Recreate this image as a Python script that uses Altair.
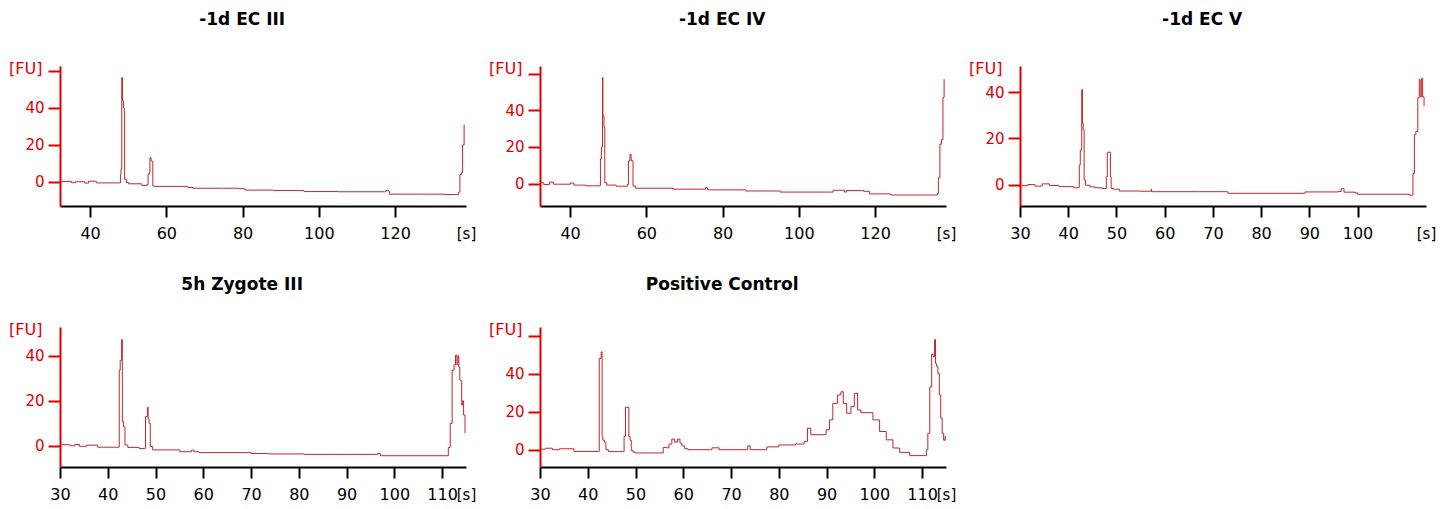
import altair as alt
import pandas as pd

# ---------------- data (migration time [s], fluorescence [FU]) ----------------
EC3_T = [32.2, 35.0, 35.1, 36.0, 36.1, 38.5, 38.6, 39.5, 39.6, 41.5, 41.6, 45.5, 47.8, 47.95, 48.1,
         48.3, 48.5, 48.75, 48.95, 49.05, 49.5, 50.0, 50.1, 53.5, 53.6, 54.8, 55.2, 55.5, 55.7, 56.0,
         56.3, 56.45, 57.0, 65.5, 65.6, 67.0, 67.1, 75.0, 79.0, 80.5, 80.6, 88.0, 96.0, 96.1, 105.0,
         117.2, 117.6, 118.3, 118.5, 129.0, 133.0, 136.2, 136.6, 137.0, 137.4, 137.7, 138.1]
EC3_FU = [0.3, 0.3, -0.4, -0.4, 0.1, 0.1, -0.6, -0.6, 0.4, 0.4, -0.5, -0.5, -0.5, 4.0, 7.0,
          56.4, 44.0, 40.0, 38.0, 1.5, -0.3, -0.3, -1.0, -1.0, -2.0, -1.5, 4.2, 5.0, 13.1, 11.4,
          11.0, -2.2, -2.4, -2.4, -3.0, -3.0, -3.4, -3.4, -3.6, -3.6, -4.4, -4.6, -4.8, -5.2, -5.3,
          -5.3, -4.6, -5.0, -6.6, -6.6, -6.8, -6.8, -5.5, 4.0, 5.0, 20.0, 31.0]

EC4_T = [32.2, 33.0, 33.1, 34.5, 34.6, 35.5, 35.6, 37.0, 40.0, 40.1, 40.8, 41.0, 44.0, 44.1, 47.0,
         47.8, 47.95, 48.2, 48.5, 48.6, 48.9, 49.1, 49.6, 52.0, 52.1, 54.5, 55.0, 55.3, 55.7, 56.0,
         56.3, 56.5, 57.2, 67.0, 67.1, 75.0, 75.5, 76.0, 86.0, 86.1, 95.0, 95.1, 108.5, 109.0, 112.0,
         112.5, 117.0, 117.6, 118.5, 124.0, 124.1, 135.5, 136.3, 136.6, 137.0, 137.4, 137.8, 138.1]
EC4_FU = [0.5, 0.5, -0.5, -0.5, 0.8, 0.8, -0.3, -0.3, -0.3, 0.3, 0.3, -0.8, -0.8, -1.2, -1.2,
          -1.0, 13.5, 20.0, 57.9, 37.0, 30.7, 0.5, -0.8, -0.8, -1.4, -1.4, -0.5, 12.4, 16.0, 12.5,
          12.5, -1.3, -2.5, -2.5, -3.0, -3.0, -2.2, -3.4, -3.4, -4.0, -4.0, -4.6, -4.6, -3.6, -4.6,
          -3.8, -4.2, -4.2, -5.6, -5.6, -6.2, -6.2, -5.4, 3.3, 21.5, 24.0, 47.0, 57.0]

EC5_T = [30.0, 31.5, 31.6, 33.0, 33.1, 34.5, 34.6, 36.0, 36.1, 38.0, 38.1, 41.0, 41.1, 42.1, 42.3,
         42.5, 42.8, 42.95, 43.1, 43.3, 43.6, 44.5, 45.5, 47.0, 47.6, 47.9, 48.1, 48.6, 48.75, 48.9,
         49.4, 50.5, 50.6, 55.0, 56.8, 57.2, 57.3, 67.0, 73.0, 73.1, 86.0, 89.0, 89.1, 93.5, 96.0,
         96.6, 97.2, 99.5, 100.0, 110.8, 111.2, 111.5, 111.8, 112.1, 112.5, 112.8, 113.0, 113.3, 113.5, 113.8]
EC5_FU = [-0.5, -0.5, 0.0, 0.0, -0.7, -0.7, 0.3, 0.3, -0.4, -0.4, -0.9, -0.9, -1.4, -1.2, 8.5,
          15.0, 41.2, 26.6, 23.7, 1.9, -0.3, -1.0, -1.4, -1.7, -1.7, 3.4, 14.0, 14.0, 3.4, -1.7,
          -2.0, -2.0, -2.8, -2.9, -2.9, -2.0, -3.1, -3.1, -3.1, -3.8, -3.8, -3.8, -3.2, -3.2, -3.0,
          -1.8, -3.3, -3.6, -4.2, -4.6, -4.6, 4.8, 21.6, 23.0, 37.6, 45.6, 38.0, 46.0, 38.0, 34.0]

ZYG_T = [30.0, 32.0, 32.1, 33.0, 33.1, 34.0, 34.1, 35.5, 35.6, 37.8, 37.9, 42.2, 42.4, 42.6, 42.9,
         43.05, 43.3, 43.45, 43.6, 44.2, 46.5, 46.6, 47.7, 47.9, 48.3, 48.45, 48.65, 48.9, 49.4, 55.0,
         55.1, 57.0, 57.5, 58.0, 59.0, 59.1, 70.0, 70.1, 73.5, 73.6, 81.0, 81.1, 90.0, 96.5, 97.0,
         97.1, 111.0, 111.3, 111.7, 112.1, 112.5, 112.8, 113.1, 113.3, 113.5, 113.7, 113.9, 114.1, 114.3,
         114.5, 114.8]
ZYG_FU = [0.5, 0.5, 0.0, 0.0, 0.6, 0.6, -0.2, -0.2, 0.3, 0.3, -0.6, -0.6, 33.6, 38.0, 47.2,
          10.8, 8.5, 8.5, 0.4, -0.7, -0.7, -1.2, -1.2, 13.0, 17.1, 12.0, 10.0, -0.3, -1.8, -1.8,
          -2.6, -2.6, -1.9, -2.6, -2.6, -3.0, -3.0, -3.4, -3.4, -3.6, -3.6, -3.8, -3.8, -3.4, -3.6,
          -4.4, -4.4, -0.7, 10.0, 33.6, 36.0, 40.3, 36.0, 40.0, 35.0, 29.2, 29.0, 18.1, 20.0,
          13.7, 5.6]

POS_T = [30.0, 31.0, 31.1, 32.5, 32.6, 34.0, 34.1, 37.0, 37.1, 42.2, 42.4, 42.8, 43.0, 43.15, 43.5,
         43.8, 44.3, 47.3, 47.6, 47.9, 48.4, 48.6, 48.85, 49.1, 49.5, 50.0, 54.0, 55.8, 56.5, 57.0,
         57.6, 58.2, 58.8, 59.3, 59.7, 60.3, 61.0, 65.5, 66.0, 67.0, 67.5, 73.0, 73.5, 74.0, 77.2,
         77.5, 80.0, 83.5, 85.3, 86.0, 86.7, 88.5, 89.9, 90.6, 91.3, 92.3, 93.0, 93.5, 94.2, 95.1,
         95.8, 96.5, 97.2, 99.0, 99.7, 101.1, 102.5, 103.9, 105.3, 107.4, 110.2, 110.9, 111.2, 111.6,
         112.0, 112.3, 112.6, 112.8, 113.0, 113.3, 113.6, 113.9, 114.2, 114.5, 114.8, 115.0]
POS_FU = [0.3, 0.3, 0.8, 0.8, 0.0, 0.0, 0.5, 0.5, -0.9, -0.9, 48.0, 51.5, 7.0, 5.0, 4.0,
          0.0, -1.0, -1.0, 7.0, 22.3, 22.3, 7.0, 5.0, -0.5, -1.3, -1.7, -1.7, 1.2, 1.0, 3.0,
          5.6, 4.0, 5.6, 3.5, 2.0, 0.5, 0.0, 0.0, 1.0, 1.0, 0.0, 0.0, 2.0, 0.0, 0.0,
          1.5, 2.5, 3.0, 4.4, 11.3, 7.9, 7.9, 10.5, 15.7, 24.4, 28.8, 30.5, 24.4, 19.2, 22.7,
          29.7, 20.9, 19.5, 19.5, 15.7, 9.6, 5.2, 0.9, -1.4, -3.1, -3.1, 0.0, 8.7, 33.0,
          50.3, 49.0, 58.0, 45.4, 44.0, 40.2, 28.8, 16.6, 8.7, 5.0, 7.0, 5.0]

TITLES = ["-1d EC III", "-1d EC IV", "-1d EC V", "5h Zygote III", "Positive Control"]
X_TICKS_A = [40, 60, 80, 100, 120]
X_TICKS_B = [30, 40, 50, 60, 70, 80, 90, 100]
X_TICKS_C = [30, 40, 50, 60, 70, 80, 90, 100, 110]
Y_TICKS_A = [0, 20, 40, 60]
Y_TICKS_B = [0, 20, 40]

# ---------------- styling ----------------
RED = "#e00000"
LINE = "#c0282d"
FONT = "DejaVu Sans"
PW = 406
PH = 140


def panel(t, fu, title, xdom, ydom, xvals, yvals, toff):
    df = pd.DataFrame({"t": t, "fu": fu})
    return (
        alt.Chart(
            df,
            title=alt.Title(title, fontSize=17, fontWeight="bold", font=FONT, anchor="middle",
                            frame="bounds", offset=toff, baseline="alphabetic", color="black"),
        )
        .mark_line(color=LINE, strokeWidth=1, clip=True, interpolate="step-after")
        .encode(
            x=alt.X("t:Q", scale=alt.Scale(domain=xdom, nice=False, zero=False),
                    axis=alt.Axis(values=xvals, title="[s]", titleAngle=0, titleX=PW, titleY=27,
                                  titleAlign="center", titleBaseline="middle", titleFontWeight="normal",
                                  titleFontSize=15, titleFont=FONT, titleColor="black",
                                  domainColor="black", domainWidth=2, tickColor="black", tickWidth=2,
                                  tickSize=11, labelFontSize=16, labelFont=FONT, labelPadding=8,
                                  labelColor="black", labelOverlap=False, labelFlush=False, grid=False)),
            y=alt.Y("fu:Q", scale=alt.Scale(domain=ydom, nice=False, zero=False),
                    axis=alt.Axis(values=yvals, labelExpr="datum.value == 60 ? '' : datum.label",
                                  title="[FU]", titleAngle=0, titleX=-18, titleY=2, titleAlign="right",
                                  titleBaseline="middle", titleFontWeight="normal", titleFontSize=16,
                                  titleFont=FONT, titleColor=RED, domainColor=RED, domainWidth=2,
                                  tickColor=RED, tickWidth=2, tickSize=12, labelFontSize=15,
                                  labelFont=FONT, labelPadding=4, labelColor=RED, labelOverlap=False,
                                  grid=False)),
        )
        .properties(width=PW, height=PH)
    )


p1 = panel(EC3_T, EC3_FU, TITLES[0], [32.1, 138.6], [-13, 62.7], X_TICKS_A, Y_TICKS_A, 18)
p2 = panel(EC4_T, EC4_FU, TITLES[1], [32.1, 138.6], [-12.2, 64.2], X_TICKS_A, Y_TICKS_A, 18)
p3 = panel(EC5_T, EC5_FU, TITLES[2], [30, 114.2], [-9.3, 51.4], X_TICKS_B, Y_TICKS_B, 18)
p4 = panel(ZYG_T, ZYG_FU, TITLES[3], [30, 115], [-9.4, 52.8], X_TICKS_C, Y_TICKS_B, 14)
p5 = panel(POS_T, POS_FU, TITLES[4], [30, 115], [-9.1, 64.6], X_TICKS_C, Y_TICKS_A, 14)

chart = (
    alt.concat(p1, p2, p3, p4, p5, columns=3, spacing={"row": 121, "column": 74}, bounds="flush")
    .properties(padding={"left": 0, "top": 3, "right": 0, "bottom": 0})
    .configure_view(stroke=None)
)

chart.save("out.html", embed_options={"renderer": "svg", "actions": False})
